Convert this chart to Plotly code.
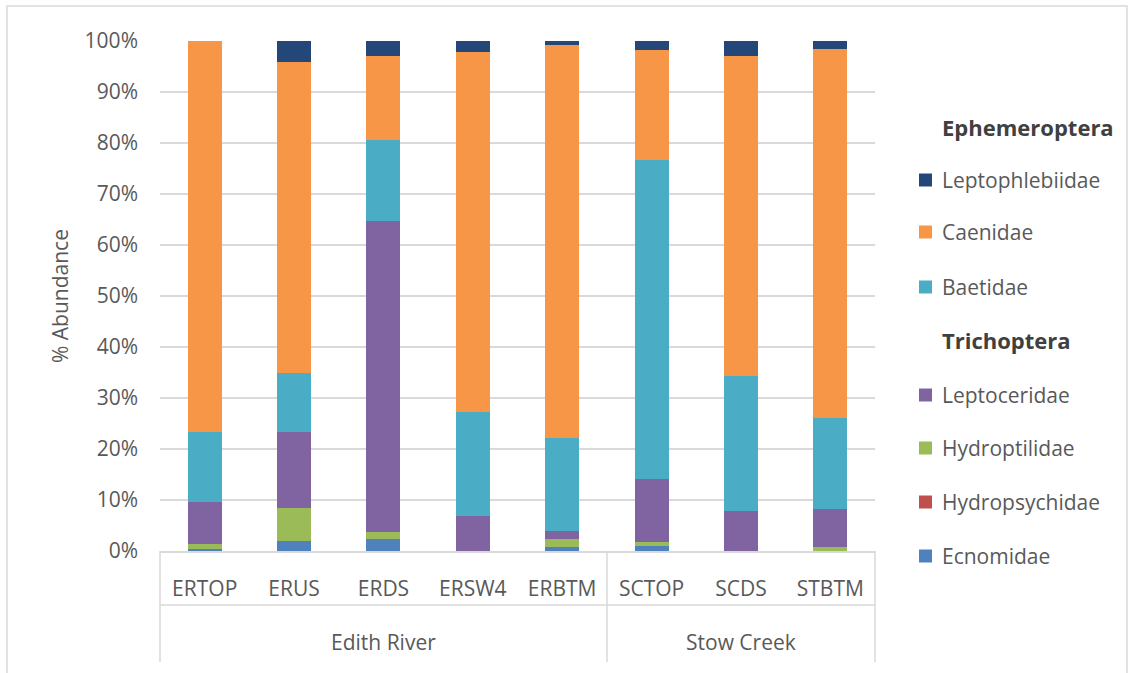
import plotly.graph_objects as go

# Sites and their river groups
sites = ["ERTOP", "ERUS", "ERDS", "ERSW4", "ERBTM", "SCTOP", "SCDS", "STBTM"]
groups = ["Edith River", "Stow Creek"]

# Relative abundance (%) of each family per site
ecnomidae = [0.4, 2.0, 2.3, 0.0, 0.7, 0.9, 0.0, 0.0]
hydropsychidae = [0.0, 0.0, 0.0, 0.0, 0.0, 0.0, 0.0, 0.0]
hydroptilidae = [1.0, 6.5, 1.5, 0.0, 1.6, 0.9, 0.0, 0.7]
leptoceridae = [8.3, 14.9, 60.9, 6.8, 1.7, 12.4, 7.8, 7.5]
baetidae = [13.7, 11.6, 15.8, 20.4, 18.2, 62.5, 26.6, 17.8]
caenidae = [76.6, 60.9, 16.6, 70.7, 77.1, 21.5, 62.7, 72.4]
leptophlebiidae = [0.0, 4.1, 2.9, 2.1, 0.7, 1.8, 2.9, 1.6]

# Stack order (bottom to top)
series = [
    ("Ecnomidae", ecnomidae, "#4F81BD"),
    ("Hydropsychidae", hydropsychidae, "#C0504D"),
    ("Hydroptilidae", hydroptilidae, "#9BBB59"),
    ("Leptoceridae", leptoceridae, "#8064A2"),
    ("Baetidae", baetidae, "#4BACC6"),
    ("Caenidae", caenidae, "#F79646"),
    ("Leptophlebiidae", leptophlebiidae, "#24477A"),
]

# Legend layout: order headings and families
legend_rows = [
    ("Ephemeroptera", None),
    ("Leptophlebiidae", "#24477A"),
    ("Caenidae", "#F79646"),
    ("Baetidae", "#4BACC6"),
    ("Trichoptera", None),
    ("Leptoceridae", "#8064A2"),
    ("Hydroptilidae", "#9BBB59"),
    ("Hydropsychidae", "#C0504D"),
    ("Ecnomidae", "#4F81BD"),
]

W, H = 1134, 673
L, R, T, B = 160, 875, 41, 551
TEXT = "#595959"
LINE = "#D9D9D9"
FONT = "Open Sans"


def px(x):
    return (x - L) / (R - L)


def py(y):
    return (B - y) / (B - T)


fig = go.Figure()
for name, vals, color in series:
    fig.add_trace(go.Bar(
        x=sites, y=vals, name=name, marker=dict(color=color, line=dict(width=0)),
        showlegend=False,
    ))

fig.update_layout(
    width=W, height=H,
    margin=dict(l=L, r=W - R, t=T, b=H - B),
    barmode="stack", bargap=0.62,
    plot_bgcolor="white", paper_bgcolor="white",
    font=dict(family=FONT, size=21, color=TEXT),
)
fig.update_yaxes(
    range=[0, 100], dtick=10, ticksuffix="%",
    showgrid=True, gridcolor=LINE, gridwidth=1.5,
    zeroline=False, showline=False, ticks="",
    ticklabelstandoff=21,
    tickfont=dict(size=21, color=TEXT),
    title=dict(text="% Abundance", font=dict(size=21, color=TEXT), standoff=10),
)
fig.update_xaxes(
    showline=True, linecolor=LINE, linewidth=1.5, ticks="",
    ticklabelstandoff=18,
    tickfont=dict(size=21, color=TEXT),
)

shapes = []
# category axis frame: group dividers and level separator
for xd in [px(L), px(607), px(R)]:
    shapes.append(dict(type="line", xref="paper", yref="paper",
                       x0=xd, x1=xd, y0=0, y1=py(662),
                       line=dict(color=LINE, width=1.5)))
shapes.append(dict(type="line", xref="paper", yref="paper",
                   x0=0, x1=1, y0=py(605), y1=py(605),
                   line=dict(color=LINE, width=1.5)))
# outer chart border
shapes.append(dict(type="rect", xref="paper", yref="paper",
                   x0=px(7), x1=px(1127), y0=py(700), y1=py(6),
                   line=dict(color=LINE, width=1.5)))

annotations = [
    dict(text="Edith River", x="ERDS", xref="x", y=py(642), yref="paper",
         yanchor="middle", showarrow=False, font=dict(size=21, color=TEXT)),
    dict(text="Stow Creek", x="SCDS", xref="x", y=py(642), yref="paper",
         yanchor="middle", showarrow=False, font=dict(size=21, color=TEXT)),
]

row_y = [127, 180, 232, 287, 340, 395, 448, 502, 556]
for (label, color), yc in zip(legend_rows, row_y):
    if color is None:
        annotations.append(dict(text=f"<b>{label}</b>", x=px(940), y=py(yc),
                                xref="paper", yref="paper", xanchor="left",
                                yanchor="middle", showarrow=False,
                                font=dict(size=22, color="#404040")))
    else:
        shapes.append(dict(type="rect", xref="paper", yref="paper",
                           x0=px(919), x1=px(932), y0=py(yc + 6.5), y1=py(yc - 6.5),
                           fillcolor=color, line=dict(width=0)))
        annotations.append(dict(text=label, x=px(940), y=py(yc),
                                xref="paper", yref="paper", xanchor="left",
                                yanchor="middle", showarrow=False,
                                font=dict(size=21, color=TEXT)))

fig.update_layout(shapes=shapes, annotations=annotations)
fig.write_html("out.html")
